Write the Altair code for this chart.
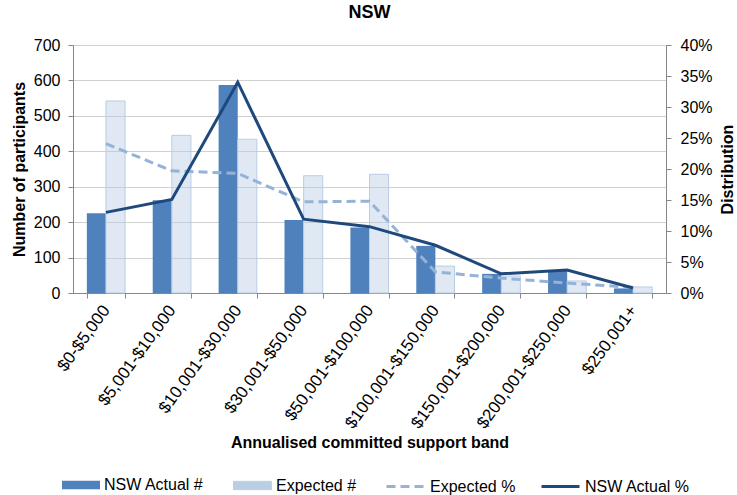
import altair as alt
import pandas as pd

categories = ["$0-$5,000", "$5,001-$10,000", "$10,001-$30,000", "$30,001-$50,000",
              "$50,001-$100,000", "$100,001-$150,000", "$150,001-$200,000",
              "$200,001-$250,000", "$250,001+"]
actual_n = [225, 262, 587, 206, 185, 133, 54, 63, 13]
expected_n = [542, 445, 434, 331, 335, 76, 48, 34, 17]
actual_pct = [13.0, 15.1, 34.0, 11.9, 10.7, 7.7, 3.1, 3.7, 0.8]
expected_pct = [24.1, 19.7, 19.3, 14.7, 14.8, 3.4, 2.4, 1.6, 0.9]

series_bar = ["NSW Actual #", "Expected #"]
series_line = ["Expected %", "NSW Actual %"]

df_act = pd.DataFrame({"band": categories, "series": series_bar[0], "value": actual_n})
df_exp = pd.DataFrame({"band": categories, "series": series_bar[1], "value": expected_n})
df_exp_pct = pd.DataFrame({"band": categories, "series": series_line[0], "pct": expected_pct})
df_act_pct = pd.DataFrame({"band": categories, "series": series_line[1], "pct": actual_pct})

FONT = "Liberation Sans"
FS = 16
AXIS_GREY = "#868686"
C_ACT = "#4f81bd"
C_EXP = "#b9cde5"
C_EXP_LINE = "#95b3d7"
C_ACT_LINE = "#1f497d"

RECT = "M-1,-0.22H1V0.22H-1Z"
LINE = "M-1,0H1"


def legend(x, shape, fill, stroke, sw, dash):
    return alt.Legend(
        title=None, orient="none", legendX=x, legendY=421, direction="horizontal",
        symbolSize=1444, symbolType=shape, symbolFillColor=fill,
        symbolStrokeColor=stroke, symbolStrokeWidth=sw, symbolDash=dash,
        symbolOpacity=1,
        labelFont=FONT, labelFontSize=FS, labelColor="#000", labelOffset=4,
        padding=0,
    )


x_axis = alt.Axis(
    title="Annualised committed support band", titleFont=FONT, titleFontSize=FS,
    titleFontWeight="bold", titleColor="#000", titleX=296.5, titleY=149,
    titleAlign="center", titleBaseline="middle",
    labelAngle=306, labelAlign="right", labelBaseline="middle",
    labelFont=FONT, labelFontSize=17, labelColor="#000", labelPadding=9,
    tickBand="extent", tickSize=5, tickColor=AXIS_GREY, domainColor=AXIS_GREY,
    grid=False,
)

left_axis = alt.Axis(
    values=list(range(0, 701, 100)), grid=True, gridColor="#d0d0d0",
    domainColor=AXIS_GREY, tickColor=AXIS_GREY, tickSize=5, labelPadding=8,
    labelFont=FONT, labelFontSize=FS, labelColor="#000",
    title="Number of participants", titleFont=FONT, titleFontSize=FS,
    titleFontWeight="bold", titleColor="#000", titleAngle=270,
    titleX=-54, titleY=124, titleAlign="center", titleBaseline="middle",
)

right_axis = alt.Axis(
    orient="right", values=list(range(0, 41, 5)), labelExpr="datum.value + '%'",
    grid=False, domainColor=AXIS_GREY, tickColor=AXIS_GREY, tickSize=5,
    labelPadding=9, labelFont=FONT, labelFontSize=FS, labelColor="#000",
    title="Distribution", titleFont=FONT, titleFontSize=FS,
    titleFontWeight="bold", titleColor="#000", titleAngle=270,
    titleX=61, titleY=124, titleAlign="center", titleBaseline="middle",
)

x_enc = alt.X("band:N", sort=categories,
              scale=alt.Scale(paddingInner=0.42, paddingOuter=0.21), axis=x_axis)
xoff = alt.XOffset("series:N", scale=alt.Scale(domain=series_bar))
y_left = alt.Y("value:Q", scale=alt.Scale(domain=[0, 700]), axis=left_axis)
y_right = alt.Y("pct:Q", scale=alt.Scale(domain=[0, 40]), axis=right_axis)

bars_act = alt.Chart(df_act).mark_bar(color=C_ACT).encode(
    x=x_enc, xOffset=xoff, y=y_left,
    color=alt.Color("series:N", scale=alt.Scale(domain=[series_bar[0]], range=[C_ACT]),
                    legend=legend(-11, RECT, C_ACT, C_ACT, 0, [1, 0])),
)

bars_exp = alt.Chart(df_exp).mark_bar(fillOpacity=0.45, stroke=C_EXP, strokeWidth=1).encode(
    x=x_enc, xOffset=xoff, y=y_left,
    color=alt.Color("series:N", scale=alt.Scale(domain=[series_bar[1]], range=[C_EXP]),
                    legend=legend(160, RECT, C_EXP, C_EXP, 1, [1, 0])),
)

line_exp = alt.Chart(df_exp_pct).mark_line(strokeWidth=3, strokeDash=[9, 5]).encode(
    x=x_enc, y=y_right,
    color=alt.Color("series:N", scale=alt.Scale(domain=[series_line[0]], range=[C_EXP_LINE]),
                    legend=legend(312, LINE, "transparent", C_EXP_LINE, 3, [9, 5])),
)

line_act = alt.Chart(df_act_pct).mark_line(strokeWidth=3).encode(
    x=x_enc, y=y_right,
    color=alt.Color("series:N", scale=alt.Scale(domain=[series_line[1]], range=[C_ACT_LINE]),
                    legend=legend(467, LINE, "transparent", C_ACT_LINE, 3, [1, 0])),
)

bar_layer = alt.layer(bars_act, bars_exp).resolve_scale(color="independent")
line_layer = alt.layer(line_exp, line_act).resolve_scale(color="independent")

chart = alt.layer(bar_layer, line_layer).resolve_scale(
    y="independent", color="independent"
).properties(
    width=593, height=248,
    padding={"left": 73, "top": 45, "right": 71, "bottom": 202},
    autosize=alt.AutoSizeParams(type="none"),
    title=alt.TitleParams(text="NSW", font=FONT, fontSize=18, fontWeight="bold",
                          color="#000", offset=15, anchor="middle"),
).configure_view(stroke="transparent").configure(background="white")

chart.save("out.html", embed_options={"renderer": "svg", "actions": False})
